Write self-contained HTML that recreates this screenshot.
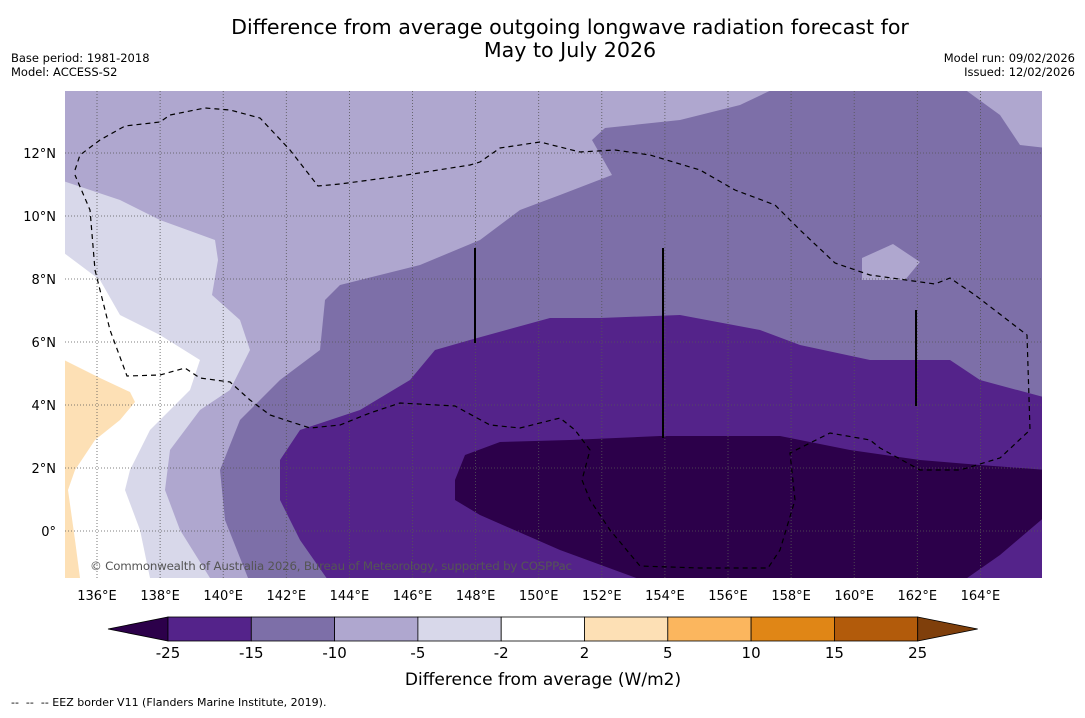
<!DOCTYPE html>
<html><head><meta charset="utf-8"><style>
body{margin:0;background:#fff;font-family:"Liberation Sans","DejaVu Sans",sans-serif}
svg text{font-family:"DejaVu Sans","Liberation Sans",sans-serif}
</style></head><body>
<svg width="1085" height="713" viewBox="0 0 1085 713">
<text x="570" y="34" font-size="20.6" text-anchor="middle">Difference from average outgoing longwave radiation forecast for</text>
<text x="570" y="57" font-size="20.6" text-anchor="middle">May to July 2026</text>
<text x="11" y="62" font-size="11.5">Base period: 1981-2018</text>
<text x="11" y="76" font-size="11.5">Model: ACCESS-S2</text>
<text x="1075" y="62" font-size="11.5" text-anchor="end">Model run: 09/02/2026</text>
<text x="1075" y="76" font-size="11.5" text-anchor="end">Issued: 12/02/2026</text>
<defs><clipPath id="mc"><rect x="65" y="91" width="977" height="487"/></clipPath></defs>
<g clip-path="url(#mc)">
<rect x="65" y="91" width="977" height="487" fill="#afa7cf"/>
<polygon fill="#d8d8ea" points="60,180 120,200 160,220 215,240 218,260 212,295 240,320 250,350 230,390 200,410 170,450 165,490 180,530 210,578 60,578"/>
<polygon fill="#ffffff" points="60,250 100,280 120,315 160,335 200,360 190,390 150,430 130,470 125,490 140,530 150,578 60,578"/>
<polygon fill="#fde0b5" points="60,358 100,378 130,392 135,402 120,420 95,440 75,470 68,490 75,540 80,578 60,578"/>
<polygon fill="#7d6fa8" points="780,86 740,105 680,120 605,128 592,140 612,175 560,195 520,210 480,240 420,265 340,285 325,300 320,350 280,380 240,420 220,470 225,520 250,583 1047,583 1047,148 1020,145 1000,115 960,86"/>
<polygon fill="#afa7cf" points="862,258 893,244 920,262 905,280 862,280"/>
<polygon fill="#54238a" points="330,583 300,540 280,500 280,460 300,430 360,410 410,380 435,350 470,340 550,318 600,318 680,315 760,330 800,345 870,360 950,360 980,380 1047,398 1047,583"/>
<polygon fill="#2c004a" points="455,480 465,455 500,442 570,440 660,436 780,436 850,450 920,460 980,465 1047,470 1047,515 1000,555 960,583 650,583 560,550 480,515 455,500"/>
<g stroke="#555" stroke-width="0.8" stroke-dasharray="1,2" id="grid"></g>
<polyline fill="none" stroke="#000" stroke-width="1.2" stroke-dasharray="5,4" points="75,170 80,155 100,140 125,126 160,122 170,115 205,108 230,110 260,118 290,150 318,186 340,184 400,176 470,165 480,162 500,148 540,142 580,152 615,150 650,155 700,170 735,190 775,205 800,230 835,263 870,275 935,284 950,278 975,295 1027,335 1030,430 1000,458 960,470 920,470 880,448 870,440 830,433 790,453 795,500 780,550 768,568 700,568 640,566 610,530 590,500 582,480 590,450 575,430 560,418 520,428 490,425 455,406 400,403 370,413 340,425 310,428 270,415 250,400 230,382 200,378 185,368 160,375 127,376 110,330 95,270 90,210 75,175"/>
<g stroke="#000" stroke-width="2">
<line x1="475" y1="248" x2="475" y2="343"/><line x1="663" y1="248" x2="663" y2="438"/><line x1="916" y1="310" x2="916" y2="406"/></g>
<text x="90" y="570" font-size="11.8" fill="#555" textLength="482">© Commonwealth of Australia 2026, Bureau of Meteorology, supported by COSPPac</text>
</g>
<g id="xt"></g>
<g id="yt"></g>
<g id="cb"></g>
<text x="543" y="685" font-size="17" text-anchor="middle">Difference from average (W/m2)</text>
<text x="11" y="706" font-size="11" xml:space="preserve">--  --  -- EEZ border V11 (Flanders Marine Institute, 2019).</text>
</svg>
<script>
const lonTicks=[136,138,140,142,144,146,148,150,152,154,156,158,160,162,164];
const latTicks=[0,2,4,6,8,10,12];
const levels=[-25,-15,-10,-5,-2,2,5,10,15,25];
const levelColors=["#54238a","#7d6fa8","#afa7cf","#d8d8ea","#ffffff","#fde0b5","#fbb65e","#e08616","#b25b0b"];
const NS="http://www.w3.org/2000/svg";
const xs=l=>97+(l-136)*31.55, ys=l=>531-l*31.5;
function mk(t,a,p){const e=document.createElementNS(NS,t);for(const k in a)e.setAttribute(k,a[k]);p.appendChild(e);return e;}
const g=document.getElementById('grid'),xt=document.getElementById('xt'),yt=document.getElementById('yt'),cb=document.getElementById('cb');
lonTicks.forEach(l=>{const x=xs(l);
const ln=mk('line',{x1:x,y1:91,x2:x,y2:578},g);


const t=mk('text',{x:x,y:600,'font-size':13,'text-anchor':'middle'},xt);t.textContent=l+'°E';

});
latTicks.forEach(l=>{const y=ys(l);
const ln=mk('line',{x1:65,y1:y,x2:1042,y2:y},g);


const t=mk('text',{x:56,y:y+5,'font-size':13,'text-anchor':'end'},yt);t.textContent=l===0?'0°':l+'°N';

});
const x0=168,w=83.3,y0=617,h=24;
const lt=mk('polygon',{points:`108,${y0+h/2} ${x0},${y0} ${x0},${y0+h}`,fill:'#2c004a',stroke:'#000','stroke-width':0.8},cb);


levelColors.forEach((c,i)=>{const r=mk('rect',{x:x0+i*w,y:y0,width:w,height:h,fill:c,stroke:'#000','stroke-width':0.8},cb);

});
const xe=x0+levelColors.length*w;
const rt=mk('polygon',{points:`${xe},${y0} ${xe+60},${y0+h/2} ${xe},${y0+h}`,fill:'#7f3f0b',stroke:'#000','stroke-width':0.8},cb);


levels.forEach((v,i)=>{const t=mk('text',{x:x0+i*w,y:658,'font-size':15,'text-anchor':'middle'},cb);t.textContent=v;

});
</script>
</body></html>
